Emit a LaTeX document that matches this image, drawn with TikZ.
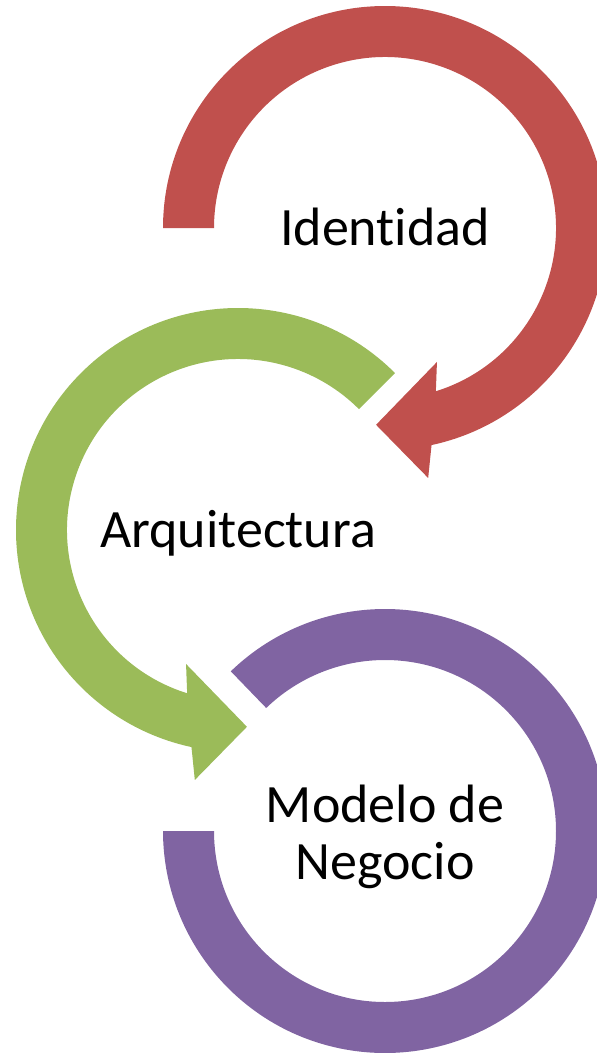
\documentclass[tikz,border=0pt]{standalone}
\usepackage{fontspec}
\setmainfont{Carlito}[RawFeature={-liga;-clig;-dlig;-calt}]
\usetikzlibrary{calc}
\definecolor{arcred}{HTML}{C0504D}
\definecolor{arcgreen}{HTML}{9BBB59}
\definecolor{arcpurple}{HTML}{8064A2}
\tikzset{
    mylabel/.style={
        font=\fontsize{54}{57}\selectfont, % 字号
        align=center,   % 居中
        inner sep=0,
        anchor=base     % 以基线对齐
    }
}
\begin{document}
\begin{tikzpicture}[x=1pt, y=1pt]
\useasboundingbox (0,0) rectangle (597,-1053);

\def\Ro{222}
\def\Ri{171}
\def\Eo{-77.9}
\def\Ei{-72.7}
\def\Dy{-17}
% 定义圆心
\coordinate (C1) at (385,-228);
\coordinate (C2) at (238,-530);
\coordinate (C3) at (385,-831);

% 箭头
\begin{scope}[shift={(C1)}]
\fill[arcred] (180:\Ro) arc[start angle=180, end angle=\Eo, radius=\Ro]
    -- (-80.2:253.7) -- (-92.6:197) -- (-68.8:143.7)
    -- (\Ei:\Ri) arc[start angle=\Ei, end angle=180, radius=\Ri] -- cycle;
\end{scope}

\begin{scope}[shift={(C2)}, xscale=-1]
\fill[arcgreen] (135:\Ro) arc[start angle=135, end angle=\Eo, radius=\Ro]
    -- (-80.2:253.7) -- (-92.6:197) -- (-68.8:143.7)
    -- (\Ei:\Ri) arc[start angle=\Ei, end angle=135, radius=\Ri] -- cycle;
\end{scope}

\begin{scope}[shift={(C3)}]
\fill[arcpurple] (134:\Ro) arc[start angle=134, end angle=-180, radius=\Ro]
    -- (-180:\Ri) arc[start angle=-180, end angle=134, radius=\Ri] -- cycle;
\end{scope}

% 文字
\node[mylabel] (T1) at ($(C1)+(0,\Dy)$) {Identidad};
\node[mylabel] (T2) at ($(C2)+(0,\Dy)$) {Arquitectura};
\node[mylabel] (T3) at ($(C3)+(0,-48)$) {Modelo de\\Negocio};

\end{tikzpicture}
\end{document}
